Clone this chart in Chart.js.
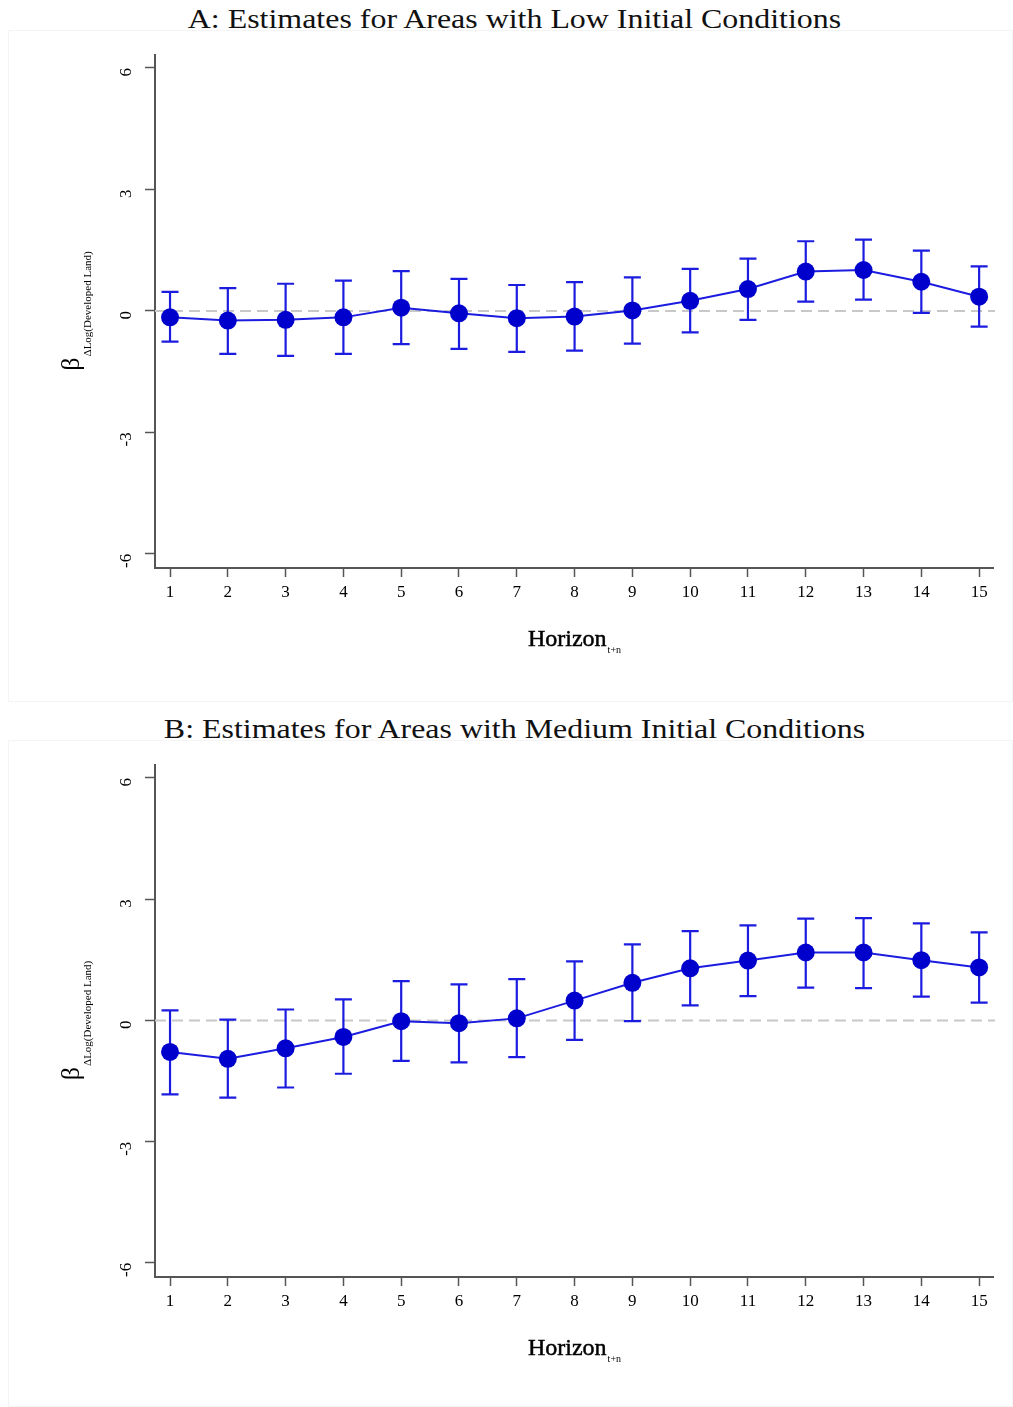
<!DOCTYPE html>
<html>
<head>
<meta charset="utf-8">
<script src="https://cdn.jsdelivr.net/npm/chart.js@4.4.0/dist/chart.umd.min.js"></script>
<style>
  body { margin: 0; background: #fff; width: 1013px; height: 1407px; position: relative; overflow: hidden; }
  .title { position: absolute; left: 0; width: 1029px; text-align: center; font-family: 'Liberation Serif', serif; font-size: 28px; color: #111; line-height: 1; transform: scaleX(1.14); transform-origin: 514.5px 0; }
  .panel { position: absolute; left: 8px; width: 1005px; border: 1px solid #f4f4f4; box-sizing: border-box; }
  canvas { position: absolute; left: 0; top: 0; }
</style>
</head>
<body>
<div class="title" style="top:5px">A: Estimates for Areas with Low Initial Conditions</div>
<div class="panel" style="top:30px;height:672px"><canvas id="chartLow" width="1003" height="670"></canvas></div>
<div class="title" style="top:715px">B: Estimates for Areas with Medium Initial Conditions</div>
<div class="panel" style="top:740px;height:667px"><canvas id="chartMed" width="1003" height="665"></canvas></div>
<script>
// horizons and tick values
const horizons = [1, 2, 3, 4, 5, 6, 7, 8, 9, 10, 11, 12, 13, 14, 15];
const yTicks = [-6, -3, 0, 3, 6];

// panel A: low initial conditions (coefficient and 95% CI bounds)
const lowCoef  = [-0.16, -0.24, -0.22, -0.16, 0.08, -0.06, -0.18, -0.14, 0.01, 0.25, 0.54, 0.97, 1.01, 0.72, 0.35];
const lowUpper = [0.47, 0.56, 0.67, 0.75, 0.98, 0.79, 0.64, 0.71, 0.83, 1.04, 1.29, 1.72, 1.76, 1.49, 1.10];
const lowLower = [-0.76, -1.06, -1.11, -1.06, -0.82, -0.94, -1.01, -0.98, -0.81, -0.53, -0.22, 0.23, 0.28, -0.05, -0.39];

// panel B: medium initial conditions
const medCoef  = [-0.78, -0.95, -0.69, -0.41, -0.02, -0.07, 0.05, 0.49, 0.93, 1.29, 1.48, 1.68, 1.68, 1.49, 1.31];
const medUpper = [0.25, 0.02, 0.27, 0.52, 0.97, 0.89, 1.02, 1.46, 1.88, 2.21, 2.35, 2.52, 2.53, 2.40, 2.18];
const medLower = [-1.83, -1.91, -1.66, -1.32, -1.00, -1.04, -0.91, -0.48, -0.02, 0.37, 0.60, 0.81, 0.80, 0.59, 0.44];

const serif = "'Liberation Serif', 'Times New Roman', serif";
const dotBlue = '#0000cd';
const lineBlue = '#1c1ce0';
const axisGrey = '#555555';
const yTitleSub = 'ΔLog(Developed Land)';

// dashed reference line at zero
const zeroLine = {
  id: 'zeroLine',
  beforeDatasetsDraw(chart) {
    const { ctx, chartArea, scales } = chart;
    const y = scales.y.getPixelForValue(0);
    ctx.save();
    ctx.strokeStyle = '#c8c8c8';
    ctx.lineWidth = 2;
    ctx.setLineDash([11, 6]);
    ctx.beginPath();
    ctx.moveTo(chartArea.left, y);
    ctx.lineTo(chartArea.right + 2, y);
    ctx.stroke();
    ctx.restore();
  }
};

// vertical confidence interval whiskers with caps
const errorBars = {
  id: 'errorBars',
  beforeDatasetsDraw(chart) {
    const { ctx, scales } = chart;
    const ds = chart.data.datasets[0];
    ctx.save();
    ctx.strokeStyle = lineBlue;
    ctx.lineWidth = 2.2;
    ds.data.forEach(function (p, i) {
      const x = scales.x.getPixelForValue(p.x);
      const yLo = scales.y.getPixelForValue(ds.lower[i]);
      const yHi = scales.y.getPixelForValue(ds.upper[i]);
      ctx.beginPath();
      ctx.moveTo(x, yLo); ctx.lineTo(x, yHi);
      ctx.moveTo(x - 8.5, yLo); ctx.lineTo(x + 8.5, yLo);
      ctx.moveTo(x - 8.5, yHi); ctx.lineTo(x + 8.5, yHi);
      ctx.stroke();
    });
    ctx.restore();
  }
};

// axis titles with subscripts
const axisTitles = {
  id: 'axisTitles',
  afterDraw(chart) {
    const { ctx, chartArea } = chart;
    const midY = (chartArea.top + chartArea.bottom) / 2;
    const midX = (chartArea.left + chartArea.right) / 2;
    ctx.save();
    ctx.fillStyle = '#000';
    ctx.textAlign = 'left';
    ctx.textBaseline = 'alphabetic';

    // y title, rotated
    ctx.save();
    ctx.translate(chartArea.left - 76, midY);
    ctx.rotate(-Math.PI / 2);
    ctx.font = '26px ' + serif;
    const bw = ctx.measureText('β').width;
    ctx.font = '11px ' + serif;
    const sw = ctx.measureText(yTitleSub).width;
    const y0 = -(bw + sw) / 2;
    ctx.font = '26px ' + serif;
    ctx.fillText('β', y0, 0);
    ctx.font = '11px ' + serif;
    ctx.fillText(yTitleSub, y0 + bw + 1, 12);
    ctx.restore();

    // x title
    ctx.font = '24px ' + serif;
    const hw = ctx.measureText('Horizon').width;
    ctx.font = '10px ' + serif;
    const tw = ctx.measureText('t+n').width;
    const x0 = midX - (hw + tw) / 2;
    ctx.font = '24px ' + serif;
    ctx.fillText('Horizon', x0, chartArea.bottom + 78);
    ctx.lineWidth = 0.5;
    ctx.strokeStyle = '#000';
    ctx.strokeText('Horizon', x0, chartArea.bottom + 78);
    ctx.font = '10px ' + serif;
    ctx.fillText('t+n', x0 + hw + 1, chartArea.bottom + 85);
    ctx.restore();
  }
};

function makePanel(canvasId, coef, lower, upper, xAxisHeight) {
  const points = horizons.map(function (h, i) { return { x: h, y: coef[i] }; });
  return new Chart(document.getElementById(canvasId), {
    type: 'line',
    data: {
      datasets: [{
        data: points,
        lower: lower,
        upper: upper,
        borderColor: lineBlue,
        borderWidth: 2,
        pointRadius: 9,
        pointBackgroundColor: dotBlue,
        pointBorderColor: dotBlue,
        pointBorderWidth: 0,
        tension: 0,
        clip: false
      }]
    },
    options: {
      responsive: false,
      animation: false,
      layout: { padding: { left: 0, right: 19, top: 24, bottom: 0 } },
      plugins: { legend: { display: false }, tooltip: { enabled: false } },
      scales: {
        x: {
          type: 'linear',
          min: 0.74,
          max: 15.24,
          afterBuildTicks: function (s) { s.ticks = horizons.map(function (v) { return { value: v }; }); },
          afterFit: function (s) { s.height = xAxisHeight; s.paddingLeft = 0; s.paddingRight = 0; },
          grid: { drawOnChartArea: false, tickLength: 9, tickColor: axisGrey, tickWidth: 1.5 },
          border: { color: axisGrey, width: 2 },
          ticks: { color: '#000', font: { family: serif, size: 17 }, padding: 5, maxRotation: 0 }
        },
        y: {
          min: -6.35,
          max: 6.32,
          afterBuildTicks: function (s) { s.ticks = yTicks.map(function (v) { return { value: v }; }); },
          afterFit: function (s) { s.width = 146; s.paddingTop = 0; s.paddingBottom = 0; },
          grid: { drawOnChartArea: false, tickLength: 10, tickColor: axisGrey, tickWidth: 1.5 },
          border: { color: axisGrey, width: 2 },
          ticks: { color: '#000', font: { family: serif, size: 17 }, padding: 18, minRotation: 90, maxRotation: 90 }
        }
      }
    },
    plugins: [zeroLine, errorBars, axisTitles]
  });
}

makePanel('chartLow', lowCoef, lowLower, lowUpper, 133);
makePanel('chartMed', medCoef, medLower, medUpper, 129);
</script>
</body>
</html>
